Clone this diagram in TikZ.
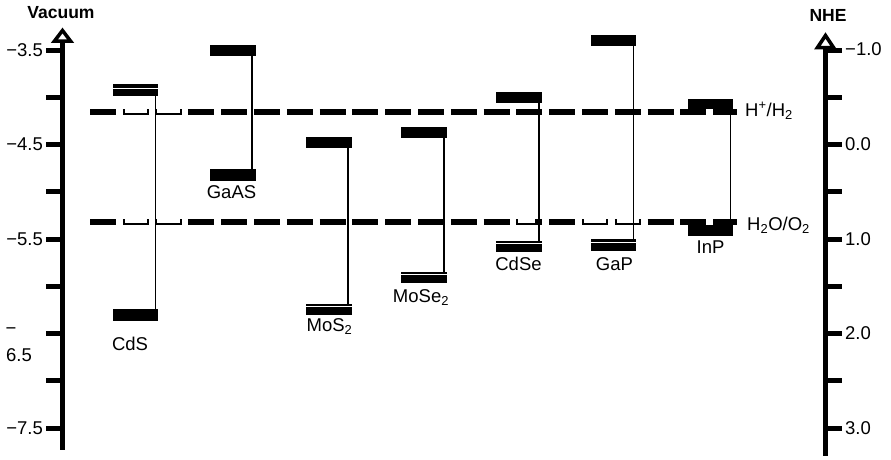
\documentclass[tikz,border=0pt]{standalone}
\usepackage{fontspec}
\setmainfont{Liberation Sans}
\begin{document}
\begin{tikzpicture}[x=1pt,y=-1pt,
  lbl/.style={inner sep=0pt, font=\fontsize{18.5}{20}\selectfont},
  head/.style={inner sep=0pt, font=\fontsize{17.5}{20}\selectfont\bfseries},
  bar/.style={fill=black, inner sep=0pt, minimum width=45.5pt, minimum height=11.5pt},
  gapline/.style={line width=1.6pt},
  axisline/.style={line width=5.5pt},
  tickmark/.style={line width=5pt},
  redox/.style={line width=5.5pt, dash pattern=on 26pt off 6.8pt},
  openhead/.style={line width=3.5pt, fill=white, line join=miter},
  seam/.style={white, line width=0.5pt}]
\useasboundingbox (0,0) rectangle (891,459);

% ---- energy axes ----
\coordinate (vacTop) at (62.5,41);
\coordinate (vacBot) at (62.5,450);
\draw[axisline] (vacTop) -- (vacBot);
\foreach \k in {0,...,8} \draw[tickmark] ({46},{50+47.25*\k}) -- ({62},{50+47.25*\k});
\draw[openhead] (54.5,41) -- (70.5,41) -- (62.5,30.5) -- cycle;

\coordinate (nheTop) at (825.5,47.5);
\coordinate (nheBot) at (825.5,456);
\draw[axisline] (nheTop) -- (nheBot);
\foreach \k in {0,...,8} \draw[tickmark] ({826},{50+47.25*\k}) -- ({842},{50+47.25*\k});
\draw[openhead] (817.5,47.5) -- (833.5,47.5) -- (825.5,35.5) -- cycle;

\node[head] (vacT) at (61,13) {Vacuum};
\node[head] (nheT) at (828,15) {NHE};

% vacuum scale labels
\node[lbl, anchor=east] (v1) at (43,50) {−3.5};
\node[lbl, anchor=east] (v2) at (43,144.5) {−4.5};
\node[lbl, anchor=east] (v3) at (43,239) {−5.5};
\node[lbl] (v4m) at (11,331) {−};
\node[lbl, anchor=west] (v4) at (6,355) {6.5};
\node[lbl, anchor=east] (v5) at (43,428) {−7.5};

% NHE scale labels
\node[lbl, anchor=west] (n1) at (845,49) {−1.0};
\node[lbl, anchor=west] (n2) at (845,144.5) {0.0};
\node[lbl, anchor=west] (n3) at (845,239) {1.0};
\node[lbl, anchor=west] (n4) at (845,333.5) {2.0};
\node[lbl, anchor=west] (n5) at (845,428) {3.0};

% ---- redox potentials ----
\coordinate (hpL) at (90,112);
\coordinate (hpR) at (737,112);
\draw[redox] (hpL) -- (hpR);
\coordinate (owL) at (90,222);
\coordinate (owR) at (737,222);
\draw[redox] (owL) -- (owR);

% hollow dashes
\fill[white] (124.6,109) rectangle (147,113.3);
\fill[white] (157.4,109) rectangle (179.8,113.3);
\fill[white] (124.6,219) rectangle (147,223.3);
\fill[white] (157.4,219) rectangle (179.8,223.3);
\fill[white] (518.2,219) rectangle (535,223.3);
\fill[white] (583.8,219) rectangle (606.2,223.3);
\fill[white] (616.6,219) rectangle (639,223.3);

\node[lbl, anchor=base west] (hpT) at (745,116) {H\textsuperscript{+}/H\textsubscript{2}};
\node[lbl, anchor=base west] (owT) at (747,230) {H\textsubscript{2}O/O\textsubscript{2}};

% ---- band edges ----
\node[bar] (cdsC) at (135.5,90) {};
\node[bar] (cdsV) at (135.5,315) {};
\node[bar] (gaasC) at (233,50.5) {};
\node[bar] (gaasV) at (233,175) {};
\node[bar] (mosC) at (329,142.5) {};
\node[bar] (mosV) at (329,309.5) {};
\node[bar] (moseC) at (424,132.5) {};
\node[bar] (moseV) at (424,277.5) {};
\node[bar] (cdseC) at (519,97.5) {};
\node[bar] (cdseV) at (519,246.5) {};
\node[bar] (gapC) at (613.5,40.5) {};
\node[bar] (gapV) at (613.5,245) {};
\node[bar, minimum height=10.5pt] (inpC) at (710.5,104) {};
\node[bar] (inpV) at (710.5,230.5) {};

\draw[gapline] ([xshift=-3pt]cdsC.south east) -- ([xshift=-3pt]cdsV.north east);
\draw[gapline] ([xshift=-4pt]gaasC.south east) -- ([xshift=-4pt]gaasV.north east);
\draw[gapline] ([xshift=-4pt]mosC.south east) -- ([xshift=-4pt]mosV.north east);
\draw[gapline] ([xshift=-3pt]moseC.south east) -- ([xshift=-3pt]moseV.north east);
\draw[gapline] ([xshift=-3pt]cdseC.south east) -- ([xshift=-3pt]cdseV.north east);
\draw[gapline] ([xshift=-3pt]gapC.south east) -- ([xshift=-3pt]gapV.north east);
\draw[gapline] ([xshift=-3pt]inpC.south east) -- ([xshift=-3pt]inpV.north east);

% seams inside some bars
\draw[seam] ([yshift=-4pt]cdsC.north west) -- ([yshift=-4pt]cdsC.north east);
\draw[seam] ([yshift=-2.7pt]mosV.north west) -- ([yshift=-2.7pt]mosV.north east);
\draw[seam] ([yshift=-3pt]moseV.north west) -- ([yshift=-3pt]moseV.north east);
\draw[seam] ([yshift=-2.5pt]cdseV.north west) -- ([yshift=-2.5pt]cdseV.north east);
\draw[seam] ([yshift=-2.7pt]gapV.north west) -- ([yshift=-2.7pt]gapV.north east);

% material names
\node[lbl, anchor=base] (cdsL) at (130,350) {CdS};
\node[lbl, anchor=base] (gaasL) at (231.5,198) {GaAS};
\node[lbl, anchor=base] (mosL) at (329.5,331.5) {MoS\textsubscript{2}};
\node[lbl, anchor=base] (moseL) at (421,302) {MoSe\textsubscript{2}};
\node[lbl, anchor=base] (cdseL) at (518.5,270) {CdSe};
\node[lbl, anchor=base] (gapL) at (614.5,270) {GaP};
\node[lbl, anchor=base] (inpL) at (710.5,253) {InP};
\end{tikzpicture}
\end{document}
